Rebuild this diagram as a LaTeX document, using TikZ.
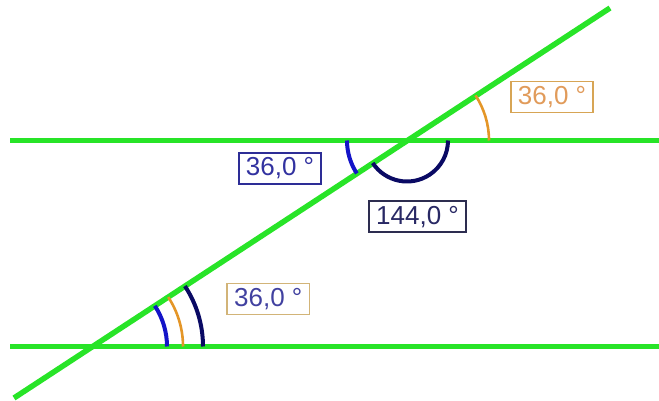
\documentclass[tikz,border=0pt]{standalone}
\usepackage{fontspec}
\setmainfont{Liberation Sans}
\definecolor{lgreen}{RGB}{40,228,40}
\definecolor{arcblue}{RGB}{20,20,200}
\definecolor{arcnavy}{RGB}{10,10,100}
\definecolor{arcorange}{RGB}{228,150,40}
\definecolor{txtorange}{RGB}{225,155,90}
\definecolor{bdorange}{RGB}{215,165,85}
\definecolor{txtblue}{RGB}{50,50,160}
\definecolor{bdblue}{RGB}{45,45,150}
\definecolor{txtnavy}{RGB}{40,40,100}
\definecolor{bdnavy}{RGB}{45,45,80}
\definecolor{txtpurple}{RGB}{65,65,160}
\definecolor{bdtan}{RGB}{210,180,120}
\tikzset{
  gline/.style={draw=lgreen, line width=5.5pt},
  angbox/.style={draw, line width=1.4pt, fill=white, minimum height=31pt, inner xsep=7pt, inner ysep=0pt,
    font=\fontsize{26}{30}\selectfont},
  thickarc/.style={line width=4pt},
  thinarc/.style={line width=2.6pt}
}
\begin{document}
\begin{tikzpicture}[x=1pt,y=1pt]
\useasboundingbox (0,0) rectangle (659,401);
% key points
\coordinate (A) at (407,260.5);
\coordinate (B) at (93,54.5);
\coordinate (L1) at (10,260.5);
\coordinate (R1) at (659,260.5);
\coordinate (L2) at (10,54.5);
\coordinate (R2) at (659,54.5);
\coordinate (T1) at (14,3);
\coordinate (T2) at (610,393);
% lines
\draw[gline] (L1) -- (R1);
\draw[gline] (L2) -- (R2);
\draw[gline] (T1) -- (T2);
% arcs at top intersection
\draw[arcorange, thinarc] (A) ++(0:82) arc[start angle=0, end angle=33.3, radius=82];
\draw[arcblue, thickarc] (A) ++(180:60) arc[start angle=180, end angle=213.3, radius=60];
\draw[arcnavy, thickarc] (A) ++(213.3:41) arc[start angle=213.3, end angle=360, radius=41];
% arcs at bottom intersection
\draw[arcblue, thickarc] (B) ++(0:74) arc[start angle=0, end angle=33.3, radius=74];
\draw[arcorange, thinarc] (B) ++(0:90) arc[start angle=0, end angle=33.3, radius=90];
\draw[arcnavy, thickarc] (B) ++(0:110) arc[start angle=0, end angle=33.3, radius=110];
% labels
\node[angbox, draw=bdorange, text=txtorange] (la) at (552,304) {36,0 °};
\node[angbox, draw=bdblue, text=txtblue] (lb) at (280,232.5) {36,0 °};
\node[angbox, draw=bdnavy, text=txtnavy] (lc) at (417.5,184.3) {144,0 °};
\node[angbox, draw=bdtan, text=txtpurple] (ld) at (268.3,102) {36,0 °};
\end{tikzpicture}
\end{document}
